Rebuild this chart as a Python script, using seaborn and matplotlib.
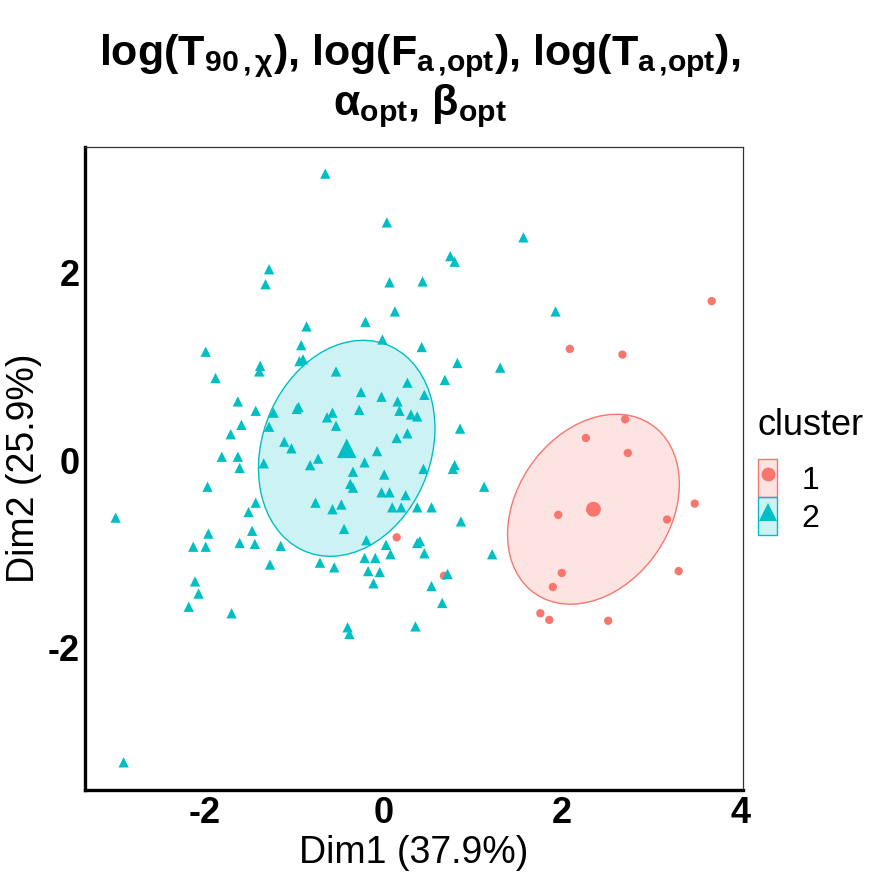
import numpy as np
import pandas as pd
import matplotlib
matplotlib.use("Agg")
import matplotlib.pyplot as plt
import seaborn as sns
from matplotlib.patches import Ellipse, Patch
from matplotlib.lines import Line2D
from matplotlib.colors import to_rgba
from matplotlib.legend_handler import HandlerTuple

# ---------------- data ----------------
dim1_cluster1 = [3.68, 2.09, 2.68, 2.71, 2.27, 2.74, 1.96, 3.49, 3.18, 3.31,
                 2.00, 1.90, 1.76, 1.86, 2.52, 0.15, 0.68]
dim2_cluster1 = [1.70, 1.19, 1.13, 0.44, 0.24, 0.08, -0.58, -0.46, -0.63, -1.18,
                 -1.20, -1.35, -1.63, -1.70, -1.71, -0.82, -1.23]

dim1_cluster2 = [-0.65, 0.04, 0.75, 0.80, -1.28, -1.32, 0.07, 0.44, 0.13, -0.20,
                 -0.86, -0.01, -0.92, 0.43, -1.99, -0.94, -0.90, 0.83, 1.31, -1.38,
                 -1.39, -1.88, -0.53, 0.69, 0.27, -0.25, 0.46, -0.02, 0.16, -1.63,
                 0.18, -1.43, -1.23, -0.95, -0.97, -0.57, -0.63, -0.27, 0.31, 0.38,
                 -1.59, -1.28, -0.53, -1.71, 0.27, 0.15, 0.86, -1.11, -1.03, -0.07,
                 -1.81, -1.63, -0.73, -0.82, -0.21, -1.34, -1.61, -0.34, 0.45, 0.80,
                 0.78, 0.01, -1.97, -0.37, -0.34, 1.13, -0.02, 0.07, 0.25, -1.43,
                 -0.76, -0.47, -0.57, -1.51, 0.10, 0.20, 0.38, 0.54, 0.87, -0.44,
                 -1.47, -1.96, -0.19, 0.41, 0.38, 0.03, -2.13, -1.99, -1.61, -1.44,
                 -1.15, 0.08, 0.46, 1.22, -0.21, -0.09, -0.71, -0.55, -1.27, -0.17,
                 -0.04, 0.72, -2.11, -0.11, 0.54, -2.07, 0.66, -2.18, -1.70, -0.40,
                 -0.38, 0.36, -3.00, -2.91, 1.57, 1.93]
dim2_cluster2 = [3.06, 2.54, 2.18, 2.12, 2.04, 1.88, 1.90, 1.91, 1.59, 1.48,
                 1.43, 1.29, 1.23, 1.21, 1.16, 1.06, 1.08, 1.04, 0.99, 1.01,
                 0.95, 0.88, 0.95, 0.86, 0.83, 0.73, 0.70, 0.68, 0.63, 0.63,
                 0.53, 0.53, 0.51, 0.57, 0.55, 0.51, 0.46, 0.54, 0.49, 0.47,
                 0.38, 0.36, 0.37, 0.28, 0.29, 0.24, 0.34, 0.20, 0.13, 0.10,
                 0.04, 0.04, 0.02, -0.05, -0.02, -0.03, -0.08, -0.12, -0.09, -0.05,
                 -0.09, -0.15, -0.28, -0.25, -0.29, -0.28, -0.34, -0.34, -0.37, -0.45,
                 -0.45, -0.47, -0.52, -0.55, -0.50, -0.50, -0.50, -0.50, -0.65, -0.73,
                 -0.75, -0.78, -0.85, -0.86, -0.88, -0.90, -0.92, -0.92, -0.88, -0.89,
                 -0.91, -1.00, -0.99, -1.00, -1.04, -1.04, -1.09, -1.14, -1.11, -1.18,
                 -1.19, -1.21, -1.29, -1.31, -1.34, -1.42, -1.52, -1.56, -1.63, -1.78,
                 -1.85, -1.77, -0.61, -3.22, 2.38, 1.59]

cluster_names = ["1", "2"]
cluster_colors = ["#F8766D", "#00BFC4"]
cluster_markers = ["o", "^"]
# cluster centres (large markers) and ellipse shape (covariance-like terms)
centroid_dim1 = [2.355, -0.41]
centroid_dim2 = [-0.52, 0.13]
ellipse_sxx = [0.927, 0.978]
ellipse_sxy = [0.260, 0.211]
ellipse_syy = [1.026, 1.327]

x_ticks = [-2, 0, 2, 4]
y_ticks = [-2, 0, 2]
x_label = "Dim1 (37.9%)"
y_label = "Dim2 (25.9%)"
title_line1 = r"$\mathbf{log(T_{90\,{,}\,χ}){,}\ log(F_{a\,{,}opt}){,}\ log(T_{a\,{,}opt}){,}}$"
title_line2 = r"$\mathbf{α_{opt}{,}\ β_{opt}}$"
legend_title = "cluster"

# ---------------- styling ----------------
sns.set_style("white")
plt.rcParams["font.family"] = ["Liberation Sans", "DejaVu Sans"]
plt.rcParams["mathtext.fontset"] = "custom"
plt.rcParams["mathtext.rm"] = "Liberation Sans"
plt.rcParams["mathtext.bf"] = "Liberation Sans:bold"
plt.rcParams["mathtext.it"] = "Liberation Sans:italic"
plt.rcParams["axes.unicode_minus"] = False
plt.rcParams["text.color"] = "black"
plt.rcParams["axes.labelcolor"] = "black"
plt.rcParams["xtick.color"] = "black"
plt.rcParams["ytick.color"] = "black"

df = pd.DataFrame({
    "Dim1": dim1_cluster1 + dim1_cluster2,
    "Dim2": dim2_cluster1 + dim2_cluster2,
    "cluster": [cluster_names[0]] * len(dim1_cluster1) + [cluster_names[1]] * len(dim1_cluster2),
})
cent = pd.DataFrame({"Dim1": centroid_dim1, "Dim2": centroid_dim2, "cluster": cluster_names})
palette = dict(zip(cluster_names, cluster_colors))
markers = dict(zip(cluster_names, cluster_markers))

fig = plt.figure(figsize=(8.8, 8.8), dpi=100)
ax = fig.add_axes([85 / 880, 90 / 880, 658 / 880, 643 / 880])

for i, name in enumerate(cluster_names):
    cov = np.array([[ellipse_sxx[i], ellipse_sxy[i]], [ellipse_sxy[i], ellipse_syy[i]]])
    vals, vecs = np.linalg.eigh(cov)
    order = vals.argsort()[::-1]
    vals, vecs = vals[order], vecs[:, order]
    angle = np.degrees(np.arctan2(vecs[1, 0], vecs[0, 0]))
    col = palette[name]
    ax.add_patch(Ellipse((centroid_dim1[i], centroid_dim2[i]),
                         2 * np.sqrt(vals[0]), 2 * np.sqrt(vals[1]),
                         angle=angle, facecolor=to_rgba(col, 0.2),
                         edgecolor=col, lw=1.0, zorder=1))

sns.scatterplot(data=df, x="Dim1", y="Dim2", hue="cluster", style="cluster",
                size="cluster", sizes={"1": 36, "2": 55},
                palette=palette, markers=markers, linewidth=0,
                legend=False, ax=ax, zorder=3)
sns.scatterplot(data=cent, x="Dim1", y="Dim2", hue="cluster", style="cluster",
                size="cluster", sizes={"1": 115, "2": 200},
                palette=palette, markers=markers, linewidth=0,
                legend=False, ax=ax, zorder=4)

ax.set_xlim(-3.343, 4.031)
ax.set_ylim(-3.515, 3.344)
ax.set_xticks(x_ticks)
ax.set_yticks(y_ticks)
ax.set_xticklabels([str(t) for t in x_ticks], fontsize=26, fontweight="bold")
ax.set_yticklabels([str(t) for t in y_ticks], fontsize=26, fontweight="bold")
ax.tick_params(axis="both", length=3, width=1, pad=1, colors="black")
ax.set_xlabel(x_label, fontsize=27, labelpad=3)
ax.set_ylabel(y_label, fontsize=27, labelpad=4)

for s in ["left", "bottom"]:
    ax.spines[s].set_linewidth(2.4)
    ax.spines[s].set_color("black")
for s in ["top", "right"]:
    ax.spines[s].set_linewidth(0.9)
    ax.spines[s].set_color("#333333")

fig.text(0.477, 1 - 56 / 880, title_line1, ha="center", va="center", fontsize=31)
fig.text(0.477, 1 - 106 / 880, title_line2, ha="center", va="center", fontsize=31)

# legend: title as its own text, keys below it
fig.text(757 / 880, 1 - 435 / 880, legend_title, ha="left", va="baseline", fontsize=26)
handles = []
for name in cluster_names:
    col = palette[name]
    handles.append((Patch(facecolor=to_rgba(col, 0.2), edgecolor=col, lw=1.0),
                    Line2D([], [], marker=markers[name], color=col, ls="none",
                           markersize=10 if name == "1" else 13.5, markeredgewidth=0)))
fig.legend(handles, cluster_names, loc="upper left",
           bbox_to_anchor=(758 / 880, 1 - 459 / 880),
           frameon=False, prop={"size": 23},
           handlelength=0.6, handleheight=1.455, labelspacing=0,
           handletextpad=0.75, borderpad=0, borderaxespad=0,
           handler_map={tuple: HandlerTuple(ndivide=1, pad=0)})

fig.savefig("out.png", dpi=100)
